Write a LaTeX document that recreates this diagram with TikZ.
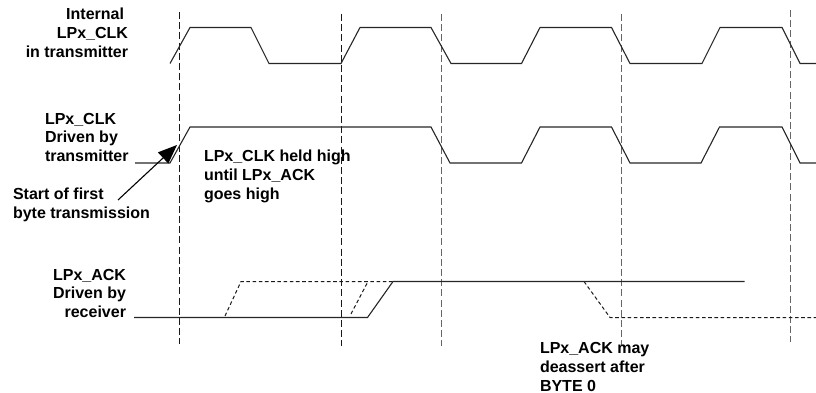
\documentclass[tikz,border=0pt]{standalone}
\usepackage{fontspec}
\setmainfont{Liberation Sans}[BoldFont={Liberation Sans Bold}]
\usetikzlibrary{arrows.meta}
\tikzset{
  signal/.style={line width=1.1pt,black!85,line join=miter},
  guide/.style={line width=1.05pt,dash pattern=on 7pt off 3.2pt},
  maybe/.style={line width=1pt,black!90,dash pattern=on 3.6pt off 2.6pt},
  lbl/.style={inner sep=0pt,outer sep=0pt,anchor=north west,align=left,
    font=\fontsize{16}{18.8}\selectfont\bfseries},
  lblr/.style={lbl,anchor=north east,align=right},
}
\begin{document}
\begin{tikzpicture}[x=1pt,y=-1pt]
\useasboundingbox (0,0) rectangle (816,393);
% guides
\foreach \n/\x/\a/\b/\c in {g1/179.5/12/344/90,g2/341.5/14/346/90,g3/441.5/14/346/60,g4/621.5/14/346/60,g5/790.5/10/342/60}{
  \coordinate (\n a) at (\x,\a);
  \coordinate (\n b) at (\x,\b);
  \draw[guide,black!\c] (\n a) -- (\n b);
}
% internal clock
\draw[signal] (170,63.5) -- (190,27.5) -- (251,27.5) -- (269,63.5) -- (341,63.5) -- (360,27.5) -- (431,27.5) -- (451,63.5) -- (521.5,63.5) -- (540,27.5) -- (611.5,27.5) -- (630,63.5) -- (702,63.5) -- (720,27.5) -- (782,27.5) -- (800,63.5) -- (816,63.5);
% driven clock
\draw[signal] (135,163) -- (170,163) -- (190,127) -- (431,127) -- (450,163) -- (521.5,163) -- (540,127) -- (611.5,127) -- (630,163) -- (701,163) -- (719.5,127) -- (782,127) -- (800,163) -- (816,163);
% ack
\draw[maybe] (225,316) -- (241,281.5) -- (393,281.5);
\draw[maybe] (351,314) -- (368,281.5);
\draw[maybe] (584,281.5) -- (610,317.5) -- (816,317.5);
\draw[signal] (134,317.5) -- (367.5,317.5) -- (393,281.5) -- (744.5,281.5);
% arrow
\coordinate (arrowtail) at (118,200);
\coordinate (arrowtip) at (177,145);
\draw[line width=1.1pt,-{Triangle[length=19pt,width=15pt]}] (arrowtail) -- (arrowtip);
% labels
\node[lblr] (internal) at (128,8) {Internal\hspace*{4pt}\\LPx\_CLK\\in transmitter};
\node[lbl] (driven) at (45,113) {LPx\_CLK\\Driven by\\transmitter};
\node[lbl] (held) at (204,150) {LPx\_CLK held high\\until LPx\_ACK\\goes high};
\node[lbl] (start) at (13,188) {Start of first\\byte transmission};
\node[lblr] (ackdrv) at (126,269) {LPx\_ACK\\Driven by\\receiver};
\node[lbl] (deassert) at (540,342.5) {LPx\_ACK may\\deassert after\\BYTE 0};
\end{tikzpicture}
\end{document}
